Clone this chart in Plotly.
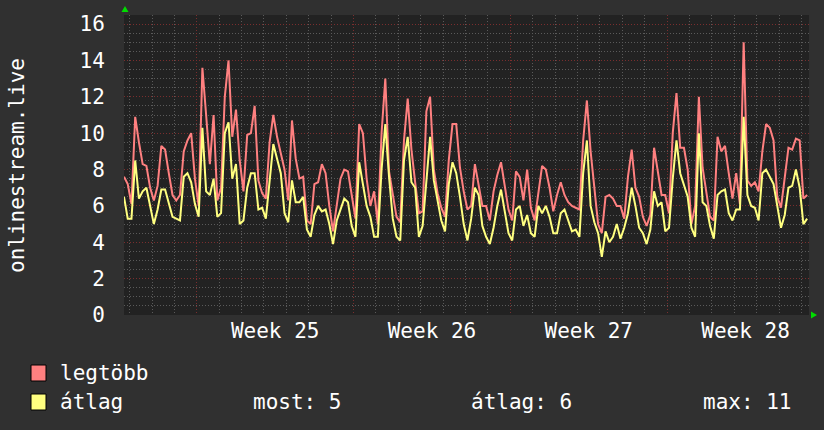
import pandas as pd
import plotly.graph_objects as go

# ---- data (4-hour samples) ----
start_time = "2024-06-13 18:00"
sample_hours = 4

legtobb = [
    7.6, 7.2, 6.1, 10.9, 9.5, 8.3, 8.2, 7.0, 6.3, 7.1,
    9.3, 9.1, 7.8, 6.6, 6.3, 6.6, 9.0, 9.6, 10.0, 7.5,
    6.0, 13.6, 11.0, 8.3, 11.0, 6.3, 7.0, 12.0, 14.0, 9.8,
    11.3, 8.5, 6.8, 9.9, 10.0, 11.5, 7.4, 6.7, 6.4, 9.5,
    11.0, 9.8, 8.9, 8.0, 6.3, 10.7, 8.6, 7.5, 7.6, 5.2,
    5.0, 7.2, 7.3, 8.3, 7.8, 6.0, 4.6, 6.2, 7.5, 8.0,
    7.9, 6.6, 5.3, 10.5, 10.0, 7.5, 6.0, 6.8, 5.0, 10.0,
    13.0, 7.9, 6.6, 5.4, 5.1, 9.6, 11.9, 9.1, 7.3, 5.6,
    5.7, 11.2, 12.0, 8.0, 6.7, 5.9, 5.4, 8.5, 10.5, 10.5,
    8.1, 6.8, 5.8, 6.0, 8.3, 7.2, 6.0, 6.0, 5.2, 6.8,
    7.7, 8.4, 7.2, 5.8, 5.2, 7.9, 7.6, 6.3, 8.0, 5.9,
    5.2, 6.7, 8.2, 8.0, 7.0, 5.7, 6.6, 7.3, 6.6, 6.2,
    6.0, 5.9, 5.8, 9.6, 11.8, 9.0, 7.0, 5.0, 4.5, 6.5,
    6.6, 6.4, 6.0, 6.0, 5.3, 7.6, 9.1, 7.0, 6.5, 5.4,
    4.9, 5.5, 9.2, 7.8, 6.6, 6.6, 5.6, 10.0, 12.2, 9.2,
    9.2, 8.0, 5.0, 6.0, 12.0, 8.1, 6.7, 5.4, 5.2, 9.8,
    9.0, 9.3, 7.8, 6.4, 7.8, 6.1, 15.0, 7.4, 7.1, 7.3,
    6.8, 9.0, 10.5, 10.3, 9.6, 6.5, 5.9, 7.4, 9.2, 9.1,
    9.7, 9.6, 6.4, 6.6,
]

atlag = [
    6.5, 5.3, 5.3, 8.5, 6.4, 6.8, 7.0, 6.0, 5.0, 5.8,
    6.9, 6.9, 6.2, 5.4, 5.3, 5.2, 7.6, 7.8, 7.3, 6.1,
    5.4, 10.3, 6.8, 6.6, 7.5, 5.4, 5.6, 10.0, 10.6, 7.5,
    8.3, 5.0, 5.2, 7.0, 7.8, 7.8, 5.8, 5.9, 5.3, 7.5,
    9.4, 8.6, 7.8, 5.6, 5.1, 7.4, 6.2, 6.2, 6.5, 4.7,
    4.3, 5.5, 6.0, 5.7, 5.8, 5.0, 3.9, 5.2, 5.8, 6.4,
    6.2, 4.9, 4.3, 8.4, 7.2, 6.0, 5.4, 4.3, 4.3, 8.0,
    10.5, 7.6, 5.3, 4.3, 4.1, 8.5, 9.8, 7.3, 7.0, 4.3,
    4.9, 7.5, 9.8, 7.4, 6.2, 5.2, 4.6, 7.2, 8.4, 7.8,
    6.5, 5.0, 4.1, 5.3, 7.0, 6.6, 4.9, 4.3, 3.9, 4.8,
    6.0, 6.9, 5.7, 4.5, 4.1, 5.8, 6.0, 4.9, 5.5, 4.5,
    4.3, 6.0, 5.6, 6.0, 5.4, 4.5, 4.5, 5.6, 5.8, 5.2,
    4.6, 4.7, 4.3, 7.8, 9.6, 6.0, 5.1, 4.5, 3.2, 4.6,
    4.0, 4.3, 5.0, 4.2, 4.8, 5.6, 7.0, 6.0, 4.8, 4.5,
    3.9, 4.7, 6.8, 6.0, 6.2, 4.6, 4.8, 7.5, 9.6, 7.8,
    7.2, 6.5, 4.8, 4.3, 10.0, 6.2, 6.0, 4.9, 4.2, 6.6,
    6.8, 6.9, 5.6, 5.2, 5.8, 5.8, 10.9, 6.6, 6.0, 5.9,
    5.2, 7.8, 8.0, 7.6, 7.2, 6.0, 4.8, 5.5, 7.0, 7.1,
    8.0, 7.0, 5.0, 5.3,
]

y_ticks = [0, 2, 4, 6, 8, 10, 12, 14, 16]
series_names = ["legtöbb", "átlag"]
axis_title = "onlinestream.live"

# ---- styling ----
FONT = "DejaVu Sans Mono"
BG = "#303030"
PLOT_BG = "#222222"
RED = "#ff8080"
YEL = "#ffff80"
MAJOR = "#7a2e2e"
MINOR = "#5a5a5a"
DOT = "1px,2px"
W, H = 824, 430
L, R, T, B = 124, 15, 15, 115
PW, PH = W - L - R, H - T - B


def px(x):
    return (x - L) / PW


def py(y):
    return (H - B - y) / PH


times = pd.date_range(start_time, periods=len(legtobb), freq=f"{sample_hours}h")
t0 = pd.Timestamp(start_time)
t_end = t0 + pd.Timedelta(hours=734)

fig = go.Figure()
fig.add_trace(go.Scatter(x=times, y=legtobb, mode="lines", name=series_names[0],
                         line=dict(color=RED, width=2), hoverinfo="skip"))
fig.add_trace(go.Scatter(x=times, y=atlag, mode="lines", name=series_names[1],
                         line=dict(color=YEL, width=2), hoverinfo="skip"))

DAY_MS = 86400000
fig.update_layout(
    width=W, height=H,
    margin=dict(l=L, r=R, t=T, b=B),
    paper_bgcolor=BG, plot_bgcolor=PLOT_BG,
    showlegend=False,
    font=dict(family=FONT, color="white", size=21),
    xaxis=dict(
        type="date", range=[t0, t_end],
        tick0="2024-06-17", dtick=7 * DAY_MS,
        tickformat="Week %V", ticklabelmode="period",
        showgrid=True, gridcolor=MAJOR, griddash=DOT, gridwidth=1,
        minor=dict(tick0="2024-06-17", dtick=DAY_MS, showgrid=True,
                   gridcolor=MINOR, griddash=DOT, gridwidth=1),
        ticks="", ticklabelstandoff=1,
        tickfont=dict(family=FONT, size=21, color="white"),
        zeroline=False, showline=False, fixedrange=True,
    ),
    yaxis=dict(
        range=[0, 16.5], tickmode="array", tickvals=y_ticks,
        ticktext=[str(v) for v in y_ticks],
        showgrid=True, gridcolor=MAJOR, griddash=DOT, gridwidth=1,
        minor=dict(dtick=0.5, tick0=0, showgrid=True,
                   gridcolor=MINOR, griddash=DOT, gridwidth=1),
        ticks="outside", ticklen=14, tickcolor=BG,
        tickfont=dict(family=FONT, size=21, color="white"),
        zeroline=False, showline=False, fixedrange=True,
    ),
)

shapes = []
# axis arrows
shapes.append(dict(type="path", xref="paper", yref="paper",
                   path=f"M {px(121.5)} {py(12)} L {px(128.5)} {py(12)} L {px(125)} {py(6)} Z",
                   fillcolor="#00dd00", line=dict(width=0)))
shapes.append(dict(type="path", xref="paper", yref="paper",
                   path=f"M {px(811)} {py(311.5)} L {px(811)} {py(318.5)} L {px(817)} {py(315)} Z",
                   fillcolor="#00dd00", line=dict(width=0)))
# legend boxes
shapes.append(dict(type="rect", xref="paper", yref="paper",
                   x0=px(31), x1=px(46), y0=py(381), y1=py(365),
                   fillcolor=RED, line=dict(color="black", width=1)))
shapes.append(dict(type="rect", xref="paper", yref="paper",
                   x0=px(31), x1=px(46), y0=py(410), y1=py(394),
                   fillcolor=YEL, line=dict(color="black", width=1)))
fig.update_layout(shapes=shapes)

now_v = atlag[-1]
avg_v = sum(atlag) / len(atlag)
max_v = max(atlag)

ann = []


def txt(x, y, s, **kw):
    d = dict(xref="paper", yref="paper", x=px(x), y=py(y), text=s, showarrow=False,
             xanchor="left", yanchor="middle",
             font=dict(family=FONT, size=21, color="white"))
    d.update(kw)
    ann.append(d)


txt(58, 373, series_names[0])
txt(58, 402, series_names[1])
txt(251, 402, f"most: {now_v:.0f}")
txt(469, 402, f"átlag: {avg_v:.0f}")
txt(701, 402, f"max: {max_v:.0f}")
txt(17, 166, axis_title, xanchor="center", textangle=-90)
fig.update_layout(annotations=ann)

fig.write_html("out.html")
